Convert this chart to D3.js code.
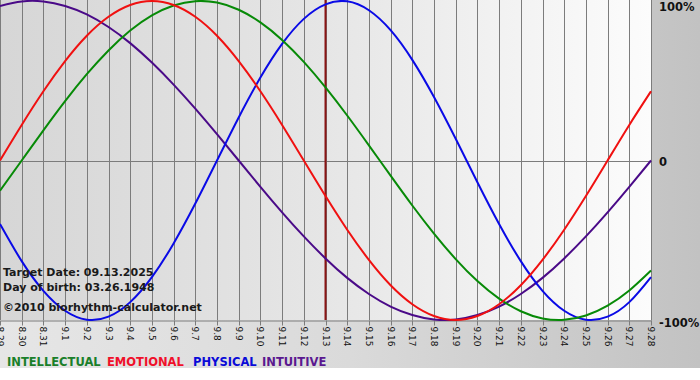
<!DOCTYPE html>
<html><head><meta charset="utf-8">
<script src="https://cdn.jsdelivr.net/npm/d3@7/dist/d3.min.js"></script>
<style>html,body{margin:0;padding:0;background:#fff;overflow:hidden}svg{display:block}</style>
</head><body>
<svg id="c" width="700" height="380"></svg>
<script>
// ---- data ----
const dates = ["8.29","8.30","8.31","9.1","9.2","9.3","9.4","9.5","9.6","9.7","9.8","9.9","9.10","9.11","9.12","9.13","9.14","9.15","9.16","9.17","9.18","9.19","9.20","9.21","9.22","9.23","9.24","9.25","9.26","9.27","9.28"];
const intellectual = [-0.189,0,0.189,0.372,0.541,0.690,0.815,0.910,0.972,0.999,0.990,0.945,0.866,0.756,0.618,0.458,0.282,0.095,-0.095,-0.282,-0.458,-0.618,-0.756,-0.866,-0.945,-0.990,-0.999,-0.972,-0.910,-0.815,-0.690];
const emotional = [0,0.223,0.434,0.623,0.782,0.901,0.975,1,0.975,0.901,0.782,0.623,0.434,0.223,0,-0.223,-0.434,-0.623,-0.782,-0.901,-0.975,-1,-0.975,-0.901,-0.782,-0.623,-0.434,-0.223,0,0.223,0.434];
const physical = [-0.398,-0.631,-0.817,-0.942,-0.998,-0.979,-0.888,-0.731,-0.520,-0.270,0,0.270,0.520,0.731,0.888,0.979,0.998,0.942,0.817,0.631,0.398,0.136,-0.136,-0.398,-0.631,-0.817,-0.942,-0.998,-0.979,-0.888,-0.731];
const intuitive = [0.969,0.997,0.997,0.969,0.916,0.837,0.736,0.614,0.476,0.325,0.165,0,-0.165,-0.325,-0.476,-0.614,-0.736,-0.837,-0.916,-0.969,-0.997,-0.997,-0.969,-0.916,-0.837,-0.736,-0.614,-0.476,-0.325,-0.165,0];
const yTicks = [1, 0, -1];
const yTickLabels = ["100%", "0", "-100%"];
const targetDate = "9.13";
const infoLines = ["Target Date: 09.13.2025", "Day of birth: 03.26.1948", "\u00A92010 biorhythm-calculator.net"];
const seriesNames = ["INTELLECTUAL", "EMOTIONAL", "PHYSICAL", "INTUITIVE"];

// ---- layout / style ----
const W = 700, H = 368;
const plot = {left: 0, right: 651, top: 1, bottom: 320};
const lineColors = {INTELLECTUAL: "#078a07", EMOTIONAL: "#f01010", PHYSICAL: "#0a0ae6", INTUITIVE: "#4a0a88"};
const legendColors = {INTELLECTUAL: "#1a7f2a", EMOTIONAL: "#f0102a", PHYSICAL: "#0a0ad8", INTUITIVE: "#5a1890"};
const legendX = [7, 107, 193, 262];
const seriesData = {INTELLECTUAL: intellectual, EMOTIONAL: emotional, PHYSICAL: physical, INTUITIVE: intuitive};
const drawOrder = ["INTUITIVE", "PHYSICAL", "INTELLECTUAL", "EMOTIONAL"];

const svg = d3.select("#c");
const defs = svg.append("defs");
const gOuter = defs.append("linearGradient").attr("id", "outer").attr("x1", 0).attr("x2", 1).attr("y1", 0).attr("y2", 0);
gOuter.append("stop").attr("offset", 0).attr("stop-color", "#e6e6e6");
gOuter.append("stop").attr("offset", 0.5).attr("stop-color", "#dadada");
gOuter.append("stop").attr("offset", 1).attr("stop-color", "#c2c2c2");
const gPlot = defs.append("linearGradient").attr("id", "plotbg").attr("x1", 0).attr("x2", 1).attr("y1", 0).attr("y2", 0);
gPlot.append("stop").attr("offset", 0).attr("stop-color", "#d6d6d6");
gPlot.append("stop").attr("offset", 0.5).attr("stop-color", "#e6e6e6");
gPlot.append("stop").attr("offset", 1).attr("stop-color", "#fcfcfc");

svg.append("rect").attr("width", W).attr("height", H).attr("fill", "url(#outer)");

const x = d3.scalePoint().domain(dates).range([plot.left, plot.right]);
const y = d3.scaleLinear().domain([-1, 1]).range([plot.bottom, plot.top]);

svg.append("rect").attr("x", plot.left).attr("y", 0).attr("width", plot.right - plot.left).attr("height", plot.bottom)
  .attr("fill", "url(#plotbg)");

// vertical grid
svg.append("g").selectAll("line").data(dates).join("line")
  .attr("x1", d => Math.round(x(d)) + 0.5).attr("x2", d => Math.round(x(d)) + 0.5)
  .attr("y1", 0).attr("y2", plot.bottom)
  .attr("stroke", "#7c7c7c").attr("stroke-width", 1);

// zero line
svg.append("line").attr("x1", plot.left).attr("x2", plot.right).attr("y1", Math.round(y(0)) + 0.5).attr("y2", Math.round(y(0)) + 0.5)
  .attr("stroke", "#7c7c7c");

// x axis
const xAxis = d3.axisBottom(x).tickSize(5).tickSizeOuter(0);
const gx = svg.append("g").attr("transform", `translate(0.5,${plot.bottom + 0.5})`).call(xAxis);
gx.select(".domain").attr("stroke", "#7c7c7c");
gx.selectAll(".tick").attr("transform", d => `translate(${Math.round(x(d))},0)`);
gx.selectAll(".tick line").attr("stroke", "#7c7c7c");
gx.selectAll(".tick text")
  .attr("x", 6).attr("y", 0).attr("dy", "0.35em").attr("transform", "rotate(90)")
  .style("text-anchor", "start")
  .attr("fill", "#111").style("font-family", "DejaVu Sans, Verdana, sans-serif").style("font-size", "9px");

// target date line
svg.append("line").attr("x1", x(targetDate)).attr("x2", x(targetDate)).attr("y1", 0).attr("y2", plot.bottom)
  .attr("stroke", "#8a1414").attr("stroke-width", 2);

// curves
const line = d3.line().x((d, i) => x(dates[i])).y(d => y(d)).curve(d3.curveNatural);
svg.append("g").selectAll("path").data(drawOrder).join("path")
  .attr("d", k => line(seriesData[k]))
  .attr("fill", "none").attr("stroke", k => lineColors[k]).attr("stroke-width", 2);

// y labels
const yLabY = {"100%": 7, "0": 162, "-100%": 323};
svg.append("g").selectAll("text").data(yTicks).join("text")
  .attr("x", 659).attr("y", (d, i) => yLabY[yTickLabels[i]]).attr("dy", "0.35em")
  .text((d, i) => yTickLabels[i])
  .attr("fill", "#111").style("font-family", "DejaVu Sans, Verdana, sans-serif")
  .style("font-size", "11.5px").style("font-weight", "bold");

// info text
svg.append("g").selectAll("text").data(infoLines).join("text")
  .attr("x", 3).attr("y", (d, i) => [276, 291, 311][i])
  .text(d => d)
  .attr("fill", "#1a1a1a").style("font-family", "DejaVu Sans, Verdana, sans-serif")
  .style("font-size", "11px").style("font-weight", "bold");

// legend
svg.append("g").selectAll("text").data(seriesNames).join("text")
  .attr("x", (d, i) => legendX[i]).attr("y", 366)
  .text(d => d)
  .attr("fill", d => legendColors[d]).style("font-family", "DejaVu Sans, Verdana, sans-serif")
  .style("font-size", "11.5px").style("font-weight", "bold");
</script>
</body></html>
